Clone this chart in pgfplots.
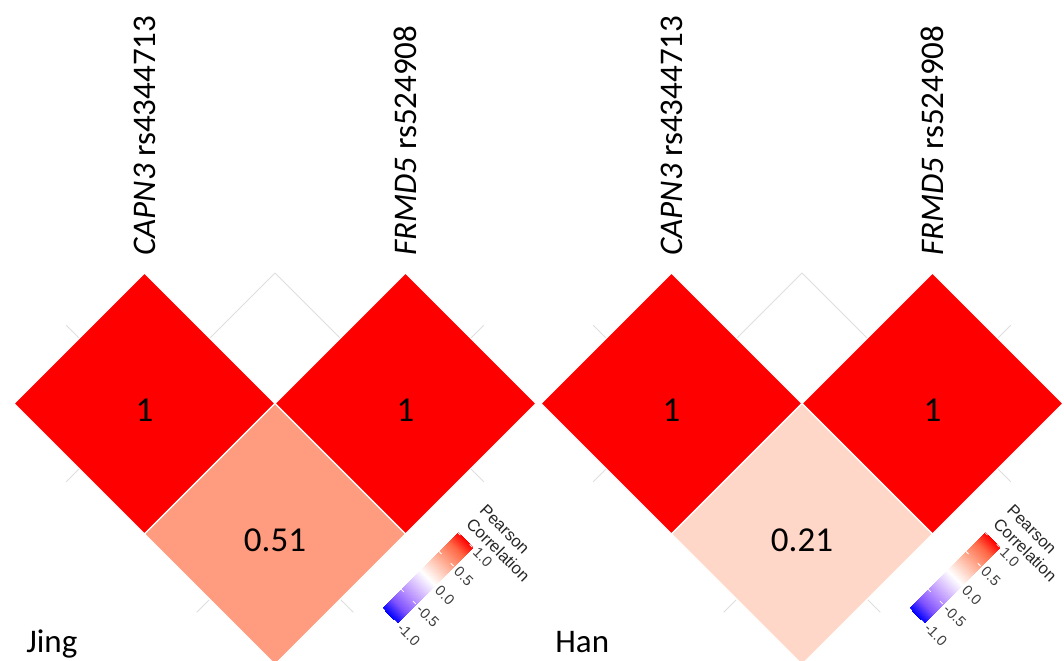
\documentclass[border=0pt]{standalone}
\usepackage{pgfplots}
\pgfplotsset{compat=1.18}
\usepackage{fontspec}
\setmainfont{Carlito}
\newfontfamily\legfont{Liberation Sans}
\definecolor{gridgray}{RGB}{222,222,222}
\definecolor{legtxt}{RGB}{60,60,60}
\pgfplotsset{colormap={pearson}{rgb255=(0,0,255) rgb255=(126,82,255) rgb255=(179,139,255) rgb255=(220,196,255) rgb255=(255,255,255) rgb255=(255,207,191) rgb255=(255,157,128) rgb255=(255,104,70) rgb255=(255,0,0)}}
\begin{document}
\begin{tikzpicture}
\begin{axis}[scale only axis, width=532pt, height=330pt,
  xmin=0, xmax=1064, ymin=0, ymax=660, y dir=reverse,
  hide axis, clip=true, colormap name=pearson,
  point meta min=-1, point meta max=1]
\coordinate (bbA) at (axis cs:0,0);
\coordinate (bbB) at (axis cs:1064,660);
% ---------- grid lines (left panel: Jing) ----------
\addplot[gridgray, line width=0.5pt, mark=none, forget plot] coordinates {(66.25,325.25) (353.25,612.25)};
\addplot[gridgray, line width=0.5pt, mark=none, forget plot] coordinates {(66.25,481.75) (275,273)};
\addplot[gridgray, line width=0.5pt, mark=none, forget plot] coordinates {(275,273) (483.75,481.75)};
\addplot[gridgray, line width=0.5pt, mark=none, forget plot] coordinates {(483.75,325.25) (196.75,612.25)};
% ---------- grid lines (right panel: Han) ----------
\addplot[gridgray, line width=0.5pt, mark=none, forget plot] coordinates {(593.25,325.25) (880.25,612.25)};
\addplot[gridgray, line width=0.5pt, mark=none, forget plot] coordinates {(593.25,481.75) (802,273)};
\addplot[gridgray, line width=0.5pt, mark=none, forget plot] coordinates {(802,273) (1010.75,481.75)};
\addplot[gridgray, line width=0.5pt, mark=none, forget plot] coordinates {(1010.75,325.25) (723.75,612.25)};
% ---------- tiles: Jing ----------
\addplot[patch, patch type=rectangle, shader=faceted, faceted color=white, line width=0.6pt, point meta=\thisrow{c}] table {
x y c
14 403.5 1
144.5 273 1
275 403.5 1
144.5 534 1
275 403.5 1
405.5 273 1
536 403.5 1
405.5 534 1
144.5 534 0.51
275 403.5 0.51
405.5 534 0.51
275 664.5 0.51
};
% ---------- tiles: Han ----------
\addplot[patch, patch type=rectangle, shader=faceted, faceted color=white, line width=0.6pt, point meta=\thisrow{c}] table {
x y c
541 403.5 1
671.5 273 1
802 403.5 1
671.5 534 1
802 403.5 1
932.5 273 1
1063 403.5 1
932.5 534 1
671.5 534 0.21
802 403.5 0.21
932.5 534 0.21
802 664.5 0.21
};
% ---------- colour bars ----------
\addplot[patch, patch type=rectangle, shader=interp, point meta=explicit] coordinates {(382,608) [-1] (396.85,622.85) [-1] (472.51,547.19) [1] (457.66,532.34) [1]};
\addplot[patch, patch type=rectangle, shader=interp, point meta=explicit] coordinates {(909,608) [-1] (923.85,622.85) [-1] (999.51,547.19) [1] (984.66,532.34) [1]};
% ticks on bars
\foreach \ox in {0,527}{
 \foreach \px/\py in {382/608, 400.915/589.085, 419.83/570.17, 438.745/551.255, 457.66/532.34}{
   \edef\temp{\noexpand\draw[white, line width=0.4pt] (axis cs:\px+\ox,\py) -- (axis cs:\px+\ox+2.83,\py+2.83);
   \noexpand\draw[white, line width=0.4pt] (axis cs:\px+\ox+12.02,\py+12.02) -- (axis cs:\px+\ox+14.85,\py+14.85);}
   \temp
 }
}
% tick labels and titles
\foreach \ox in {0,527}{
 \edef\temp{
 \noexpand\node[rotate=-45, anchor=west, inner sep=0pt, text=legtxt, font=\noexpand\legfont\noexpand\fontsize{7.3}{8.5}\noexpand\selectfont] at (axis cs:399.68+\ox,625.68) {-1.0};
 \noexpand\node[rotate=-45, anchor=west, inner sep=0pt, text=legtxt, font=\noexpand\legfont\noexpand\fontsize{7.3}{8.5}\noexpand\selectfont] at (axis cs:418.6+\ox,606.77) {-0.5};
 \noexpand\node[rotate=-45, anchor=west, inner sep=0pt, text=legtxt, font=\noexpand\legfont\noexpand\fontsize{7.3}{8.5}\noexpand\selectfont] at (axis cs:437.5+\ox,587.85) {0.0};
 \noexpand\node[rotate=-45, anchor=west, inner sep=0pt, text=legtxt, font=\noexpand\legfont\noexpand\fontsize{7.3}{8.5}\noexpand\selectfont] at (axis cs:456.4+\ox,568.9) {0.5};
 \noexpand\node[rotate=-45, anchor=west, inner sep=0pt, text=legtxt, font=\noexpand\legfont\noexpand\fontsize{7.3}{8.5}\noexpand\selectfont] at (axis cs:475.3+\ox,550.0) {1.0};
 \noexpand\node[rotate=-45, anchor=south west, inner sep=0pt, align=left, text=black!85, font=\noexpand\legfont\noexpand\fontsize{8.3}{9.6}\noexpand\selectfont] at (axis cs:464.73+\ox,525.27) {Pearson\noexpand\\Correlation};
 }
 \temp
}
% ---------- tile values ----------
\node[font=\fontsize{17.5}{20}\selectfont] at (axis cs:144.5,410) {1};
\node[font=\fontsize{17.5}{20}\selectfont] at (axis cs:405.5,410) {1};
\node[font=\fontsize{17.5}{20}\selectfont] at (axis cs:275,540) {0.51};
\node[font=\fontsize{17.5}{20}\selectfont] at (axis cs:671.5,410) {1};
\node[font=\fontsize{17.5}{20}\selectfont] at (axis cs:932.5,410) {1};
\node[font=\fontsize{17.5}{20}\selectfont] at (axis cs:802,540) {0.21};
% ---------- variable labels ----------
\node[rotate=90, anchor=west, inner sep=0pt, font=\fontsize{16.5}{18}\selectfont] at (axis cs:144.5,256) {\textit{CAPN3} rs4344713};
\node[rotate=90, anchor=west, inner sep=0pt, font=\fontsize{16.5}{18}\selectfont] at (axis cs:405.5,256) {\textit{FRMD5} rs524908};
\node[rotate=90, anchor=west, inner sep=0pt, font=\fontsize{16.5}{18}\selectfont] at (axis cs:671.5,256) {\textit{CAPN3} rs4344713};
\node[rotate=90, anchor=west, inner sep=0pt, font=\fontsize{16.5}{18}\selectfont] at (axis cs:932.5,256) {\textit{FRMD5} rs524908};
% ---------- panel names ----------
\node[anchor=base west, inner sep=0pt, font=\fontsize{16.5}{18}\selectfont] at (axis cs:26,652) {Jing};
\node[anchor=base west, inner sep=0pt, font=\fontsize{16.5}{18}\selectfont] at (axis cs:555,652) {Han};
\end{axis}
\pgfresetboundingbox
\path[use as bounding box] (bbA) rectangle (bbB);
\end{tikzpicture}
\end{document}
